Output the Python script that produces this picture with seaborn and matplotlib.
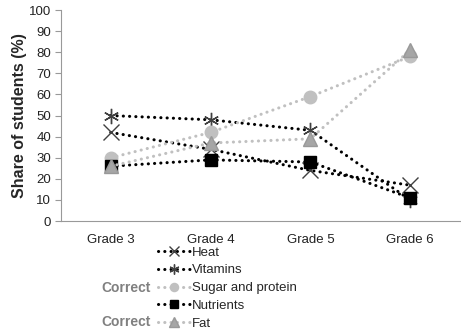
import matplotlib
matplotlib.use("Agg")
import matplotlib.pyplot as plt
from matplotlib.lines import Line2D
import seaborn as sns
import pandas as pd

grades = ["Grade 3", "Grade 4", "Grade 5", "Grade 6"]
heat = [42, 34, 24, 17]
vitamins = [50, 48, 43, 10]
sugar_protein = [30, 42, 59, 78]
nutrients = [26, 29, 28, 11]
fat = [26, 37, 39, 81]
series_names = ["Heat", "Vitamins", "Sugar and protein", "Nutrients", "Fat"]
yticks = list(range(0, 101, 10))

sns.set_theme(style="white")
plt.rcParams["font.family"] = ["Liberation Sans", "DejaVu Sans"]

fig = plt.figure(figsize=(4.61, 3.34), dpi=100)
ax = fig.add_axes([0.132, 0.338, 0.866, 0.632])

values = [heat, vitamins, sugar_protein, nutrients, fat]
rows = []
for name, vals in zip(series_names, values):
    for i, v in enumerate(vals):
        rows.append({"series": name, "pos": i, "value": v})
df = pd.DataFrame(rows)

ls = (0, (0.05, 2.0))
styles = {
    "Heat": dict(color="black", marker="x", ms=11, mec="#404040", mew=1.0, mfc="none"),
    "Vitamins": dict(color="black", marker=(6, 2, 0), ms=11, mec="#404040", mew=1.0, mfc="none"),
    "Sugar and protein": dict(color="#c0c0c0", marker="o", ms=9, mec="#c0c0c0", mfc="#c0c0c0"),
    "Nutrients": dict(color="black", marker="s", ms=8, mec="black", mfc="black"),
    "Fat": dict(color="#c0c0c0", marker="^", ms=10, mec="#999999", mfc="#a6a6a6"),
}

handles = []
for name in series_names:
    st = styles[name]
    sub = df[df["series"] == name]
    sns.lineplot(data=sub, x="pos", y="value", ax=ax, color=st["color"], lw=2.2,
                 linestyle=ls, marker=st["marker"], markersize=st["ms"],
                 markeredgecolor=st["mec"], markerfacecolor=st["mfc"],
                 markeredgewidth=st.get("mew", 1.0), legend=False,
                 dash_capstyle="round")
    handles.append(Line2D([0], [0], color=st["color"], lw=2.2, linestyle=ls,
                          dash_capstyle="round", marker=st["marker"],
                          markersize=st["ms"] * 0.65, markeredgecolor=st["mec"],
                          markerfacecolor=st["mfc"], markeredgewidth=1.0))

ax.set_xlim(-0.5, 3.5)
ax.set_ylim(0, 100)
ax.set_yticks(yticks)
ax.set_xticks(range(len(grades)))
ax.set_xticklabels(grades, fontsize=9.5, color="#222222")
ax.set_xticks([0.5, 1.5, 2.5, 3.5], minor=True)
ax.tick_params(axis="x", which="major", length=0, pad=9)
ax.tick_params(axis="x", which="minor", length=5, color="#999999", width=0.8)
ax.tick_params(axis="y", length=4, color="#999999", width=0.8, labelsize=9.5,
               labelcolor="#222222", left=True, pad=3)
ax.set_xlabel("")
ax.set_ylabel("Share of students (%)", fontsize=11.5, fontweight="bold", labelpad=1)
for s in ["top", "right"]:
    ax.spines[s].set_visible(False)
for s in ["left", "bottom"]:
    ax.spines[s].set_color("#999999")
    ax.spines[s].set_linewidth(0.8)

fig.legend(handles, series_names, loc="center left",
           bbox_to_anchor=(158 / 461, 1 - 288 / 334),
           frameon=False, fontsize=9.5, handlelength=2.4, handletextpad=0.2,
           labelspacing=0.42, borderpad=0, borderaxespad=0)
for yy in [288, 322]:
    fig.text(151 / 461, 1 - yy / 334, "Correct", ha="right", va="center",
             fontsize=10, fontweight="bold", color="#808080")

fig.savefig("out.png", dpi=100)
